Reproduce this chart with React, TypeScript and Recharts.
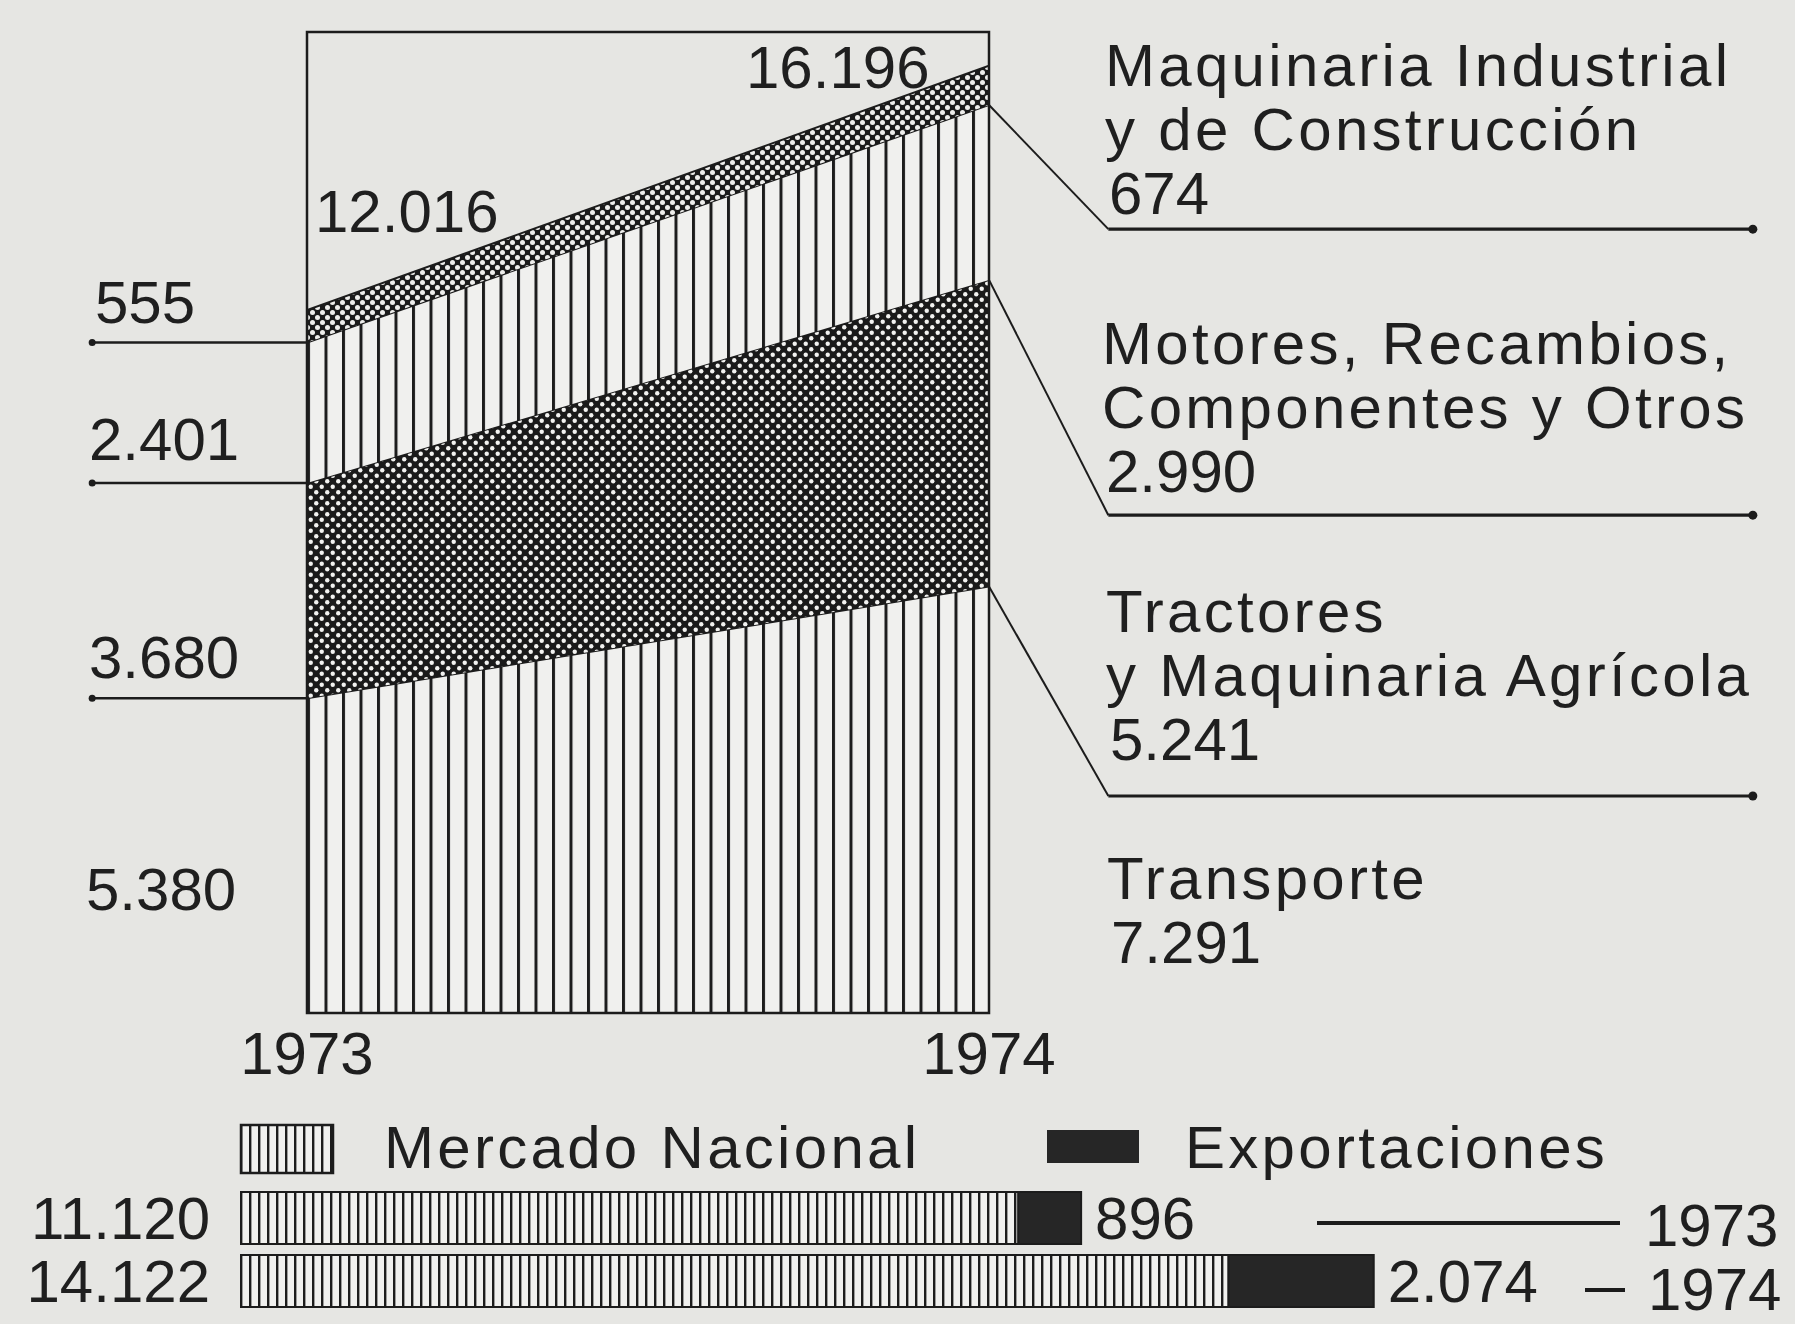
import React from "react";
import {
  Area,
  AreaChart,
  Bar,
  BarChart,
  LabelList,
  ReferenceArea,
  ReferenceDot,
  ReferenceLine,
  XAxis,
  YAxis
} from "recharts";

// production by sector, millions of pesetas
const years = [1973, 1974];
const transporte = [5380, 7291];
const tractores = [3680, 5241];
const motores = [2401, 2990];
const maquinaria = [555, 674];

const sectorNames = [
  ["Transporte"],
  ["Tractores", "y Maquinaria Agrícola"],
  ["Motores, Recambios,", "Componentes y Otros"],
  ["Maquinaria Industrial", "y de Construcción"]
];

// home market vs exports
const nacional = [11120, 14122];
const exportaciones = [896, 2074];
const marketNames = ["Mercado Nacional", "Exportaciones"];

const FONT = "'Liberation Sans', Arial, sans-serif";
const INK = "#1c1c1c";
const PAPER = "#e6e6e3";
const LIGHT = "#f0f0ee";

// annotation placement (data units of the area chart)
const Y_MAX = 16770;
const LEFT_X = 1972.685;
const KNEE_X = 1974.175;
const END_X = 1975.12;
const RIGHT_LEVELS = [3710, 8510, 13400];

const fmt = (n: number) => String(n).replace(/\B(?=(\d{3})+(?!\d))/g, ".");

const areaData = years.map((year, i) => ({
  year,
  transporte: transporte[i],
  tractores: tractores[i],
  motores: motores[i],
  maquinaria: maquinaria[i]
}));

const totals = years.map((_, i) => transporte[i] + tractores[i] + motores[i] + maquinaria[i]);
const bounds = (i: number) => [
  transporte[i],
  transporte[i] + tractores[i],
  transporte[i] + tractores[i] + motores[i]
];

const barData = years.map((year, i) => ({
  year: String(year),
  nacional: nacional[i],
  exportaciones: exportaciones[i]
}));

function Patterns({ p }: { p: string }) {
  return (
    <defs>
      <pattern id={p + "stripe"} x={307} width={17.5} height={10} patternUnits="userSpaceOnUse">
        <rect width={17.5} height={10} fill={LIGHT} />
        <rect x={0} width={3} height={10} fill={INK} />
      </pattern>
      <pattern id={p + "dark"} width={11} height={11} patternUnits="userSpaceOnUse">
        <rect width={11} height={11} fill="#1a1a1a" />
        <circle cx={2.75} cy={2.75} r={2.2} fill="#f2f2f0" />
        <circle cx={8.25} cy={8.25} r={2.2} fill="#f2f2f0" />
      </pattern>
      <pattern id={p + "dots"} width={10} height={10} patternUnits="userSpaceOnUse">
        <rect width={10} height={10} fill="#1a1a1a" />
        <circle cx={2.5} cy={2.5} r={2.5} fill="#eeeeec" />
        <circle cx={7.5} cy={7.5} r={2.5} fill="#eeeeec" />
      </pattern>
      <pattern id={p + "bar"} x={240} width={9} height={10} patternUnits="userSpaceOnUse">
        <rect width={9} height={10} fill={LIGHT} />
        <rect x={0} width={2.4} height={10} fill={INK} />
      </pattern>
    </defs>
  );
}

export default function App() {
  const leftBlocks = [
    { value: maquinaria[0], x: 95, y: 323 },
    { value: motores[0], x: 89, y: 460 },
    { value: tractores[0], x: 89, y: 678 },
    { value: transporte[0], x: 86, y: 910 }
  ];
  const rightBlocks = [
    { lines: sectorNames[3], value: maquinaria[1], x: 1105, y: 86 },
    { lines: sectorNames[2], value: motores[1], x: 1102, y: 364 },
    { lines: sectorNames[1], value: tractores[1], x: 1106, y: 632 },
    { lines: sectorNames[0], value: transporte[1], x: 1107, y: 899 }
  ];
  const lh = 64;
  const textStyle = { fontFamily: FONT, fontSize: 60, fill: "#1f1f1f" };
  const wordStyle = { ...textStyle, letterSpacing: 3.3 };

  return (
    <div
      style={{
        position: "absolute",
        left: 0,
        top: 0,
        width: 1795,
        height: 1324,
        background: PAPER,
        overflow: "hidden"
      }}
    >
      <div style={{ position: "absolute", left: 0, top: 0 }}>
        <AreaChart
          width={1795}
          height={1112}
          data={areaData}
          margin={{ top: 32, right: 806, bottom: 17, left: 307 }}
        >
          <Patterns p="a-" />
          <XAxis
            dataKey="year"
            type="number"
            domain={[1973, 1974]}
            ticks={years}
            allowDataOverflow
            axisLine={false}
            tickLine={false}
            height={82}
            tickMargin={12}
            tick={{ fontSize: 60, fill: "#1f1f1f", fontFamily: FONT }}
          />
          <YAxis type="number" domain={[0, Y_MAX]} allowDataOverflow hide />
          <Area type="linear" dataKey="transporte" stackId="s" fill="url(#a-stripe)" fillOpacity={1} stroke={INK} strokeWidth={2} isAnimationActive={false} />
          <Area type="linear" dataKey="tractores" stackId="s" fill="url(#a-dark)" fillOpacity={1} stroke={INK} strokeWidth={2} isAnimationActive={false} />
          <Area type="linear" dataKey="motores" stackId="s" fill="url(#a-stripe)" fillOpacity={1} stroke={INK} strokeWidth={2} isAnimationActive={false} />
          <Area type="linear" dataKey="maquinaria" stackId="s" fill="url(#a-dots)" fillOpacity={1} stroke={INK} strokeWidth={2} isAnimationActive={false} />
          <ReferenceArea x1={1973} x2={1974} y1={0} y2={Y_MAX} fill="none" stroke={INK} strokeWidth={2.5} ifOverflow="visible" />
          {bounds(0).map((b) => (
            <ReferenceLine key={"l" + b} segment={[{ x: LEFT_X, y: b }, { x: 1973, y: b }]} stroke={INK} strokeWidth={2.5} ifOverflow="visible" />
          ))}
          {bounds(0).map((b) => (
            <ReferenceDot key={"ld" + b} x={LEFT_X} y={b} r={3.5} fill={INK} stroke="none" ifOverflow="visible" />
          ))}
          {bounds(1).map((b, i) => (
            <ReferenceLine key={"d" + b} segment={[{ x: 1974, y: b }, { x: KNEE_X, y: RIGHT_LEVELS[i] }]} stroke={INK} strokeWidth={2} ifOverflow="visible" />
          ))}
          {RIGHT_LEVELS.map((lv) => (
            <ReferenceLine key={"h" + lv} segment={[{ x: KNEE_X, y: lv }, { x: END_X, y: lv }]} stroke={INK} strokeWidth={3.2} ifOverflow="visible" />
          ))}
          {RIGHT_LEVELS.map((lv) => (
            <ReferenceDot key={"hd" + lv} x={END_X} y={lv} r={4.5} fill={INK} stroke="none" ifOverflow="visible" />
          ))}
        </AreaChart>
      </div>

      <div style={{ position: "absolute", left: 0, top: 1180 }}>
        <BarChart
          width={1795}
          height={144}
          data={barData}
          layout="vertical"
          margin={{ top: 6, right: 155, bottom: 12, left: 240 }}
        >
          <Patterns p="b-" />
          <XAxis type="number" domain={[0, 20000]} allowDataOverflow hide />
          <YAxis type="category" dataKey="year" hide />
          <Bar dataKey="nacional" stackId="m" barSize={52} fill="url(#b-bar)" stroke={INK} strokeWidth={2} isAnimationActive={false}>
            <LabelList dataKey="nacional" position="left" offset={30} formatter={(v: any) => fmt(Number(v))} fill="#1f1f1f" fontSize={60} fontFamily={FONT} />
          </Bar>
          <Bar dataKey="exportaciones" stackId="m" barSize={52} fill="#262626" stroke={INK} strokeWidth={2} isAnimationActive={false}>
            <LabelList dataKey="exportaciones" position="right" offset={14} formatter={(v: any) => fmt(Number(v))} fill="#1f1f1f" fontSize={60} fontFamily={FONT} />
          </Bar>
        </BarChart>
      </div>

      <svg width={1795} height={1324} style={{ position: "absolute", left: 0, top: 0, pointerEvents: "none" }}>
        <Patterns p="o-" />
        <text x={315} y={232} style={textStyle}>{fmt(totals[0])}</text>
        <text x={746} y={88} style={textStyle}>{fmt(totals[1])}</text>
        {leftBlocks.map((b) => (
          <text key={"lb" + b.value} x={b.x} y={b.y} style={textStyle}>{fmt(b.value)}</text>
        ))}
        {rightBlocks.map((b) => (
          <g key={"rb" + b.value}>
            {b.lines.map((ln, j) => (
              <text key={ln} x={b.x} y={b.y + j * lh} style={wordStyle}>{ln}</text>
            ))}
            <text x={b.x + 4} y={b.y + b.lines.length * lh} style={textStyle}>{fmt(b.value)}</text>
          </g>
        ))}

        <rect x={241} y={1125} width={92} height={48} fill="url(#o-bar)" stroke={INK} strokeWidth={2.5} />
        <text x={384} y={1168} style={wordStyle}>{marketNames[0]}</text>
        <rect x={1047} y={1130} width={92} height={33} fill="#262626" />
        <text x={1185} y={1168} style={wordStyle}>{marketNames[1]}</text>

        <line x1={1317} y1={1223} x2={1620} y2={1223} stroke={INK} strokeWidth={4} />
        <text x={1645} y={1246} style={textStyle}>{years[0]}</text>
        <line x1={1585} y1={1290} x2={1625} y2={1290} stroke={INK} strokeWidth={4} />
        <text x={1648} y={1310} style={textStyle}>{years[1]}</text>
      </svg>
    </div>
  );
}
